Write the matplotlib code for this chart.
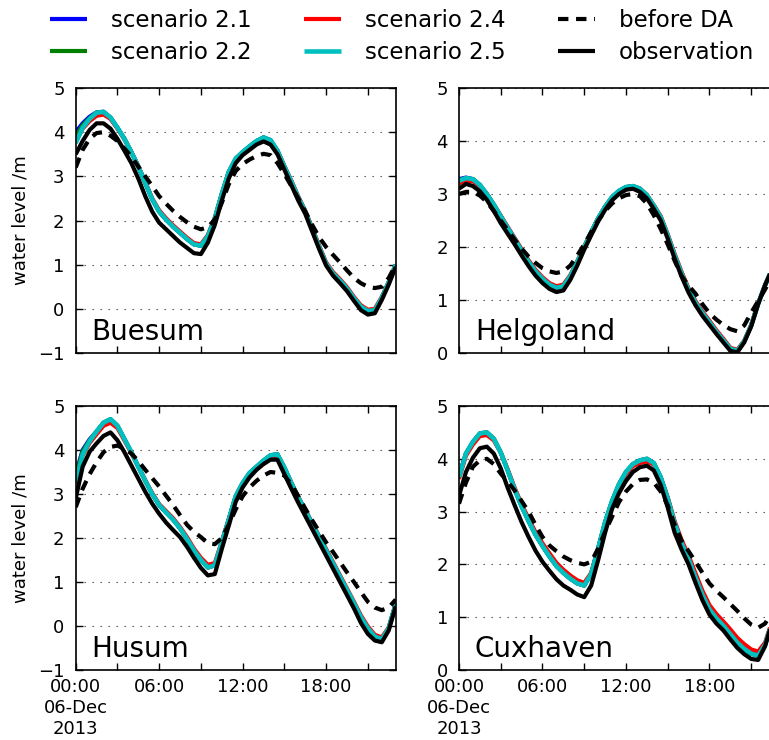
import numpy as np
import matplotlib
matplotlib.use("Agg")
import matplotlib.pyplot as plt
import matplotlib.dates as mdates
from matplotlib.ticker import FuncFormatter, MultipleLocator

# ---------------- data (half-hourly, 06-Dec-2013 00:00 .. 23:00) ----------------
minutes = np.arange(0, 23 * 60 + 1, 30)

stations = ["Buesum", "Helgoland", "Husum", "Cuxhaven"]
ylims = {"Buesum": (-1, 5), "Helgoland": (0, 5), "Husum": (-1, 5), "Cuxhaven": (0, 5)}

buesum_s21 = [4.00, 4.20, 4.35, 4.45, 4.46, 4.33, 4.10, 3.85, 3.55, 3.22, 2.85, 2.48, 2.20, 2.02, 1.86, 1.72, 1.58, 1.46, 1.43, 1.65, 2.05, 2.60, 3.10, 3.40, 3.55, 3.68, 3.80, 3.88, 3.82, 3.58, 3.22, 2.88, 2.52, 2.20, 1.80, 1.40, 1.02, 0.80, 0.64, 0.46, 0.24, 0.05, -0.05, -0.03, 0.25, 0.60, 1.00]
buesum_s22 = [3.90, 4.16, 4.32, 4.44, 4.46, 4.33, 4.10, 3.85, 3.55, 3.22, 2.85, 2.48, 2.20, 2.02, 1.86, 1.72, 1.58, 1.46, 1.43, 1.65, 2.05, 2.60, 3.10, 3.40, 3.55, 3.68, 3.80, 3.88, 3.82, 3.58, 3.22, 2.88, 2.52, 2.20, 1.80, 1.40, 1.02, 0.80, 0.64, 0.46, 0.24, 0.05, -0.05, -0.03, 0.25, 0.60, 1.00]
buesum_s24 = [3.80, 4.08, 4.25, 4.37, 4.40, 4.30, 4.08, 3.84, 3.55, 3.23, 2.87, 2.50, 2.23, 2.05, 1.89, 1.75, 1.61, 1.49, 1.46, 1.67, 2.06, 2.60, 3.08, 3.38, 3.53, 3.65, 3.77, 3.84, 3.80, 3.58, 3.23, 2.90, 2.54, 2.22, 1.83, 1.43, 1.05, 0.83, 0.67, 0.49, 0.27, 0.08, -0.02, 0.00, 0.27, 0.61, 1.00]
buesum_s25 = [3.75, 4.10, 4.30, 4.44, 4.46, 4.33, 4.10, 3.85, 3.55, 3.22, 2.85, 2.48, 2.20, 2.02, 1.86, 1.72, 1.58, 1.46, 1.43, 1.65, 2.05, 2.60, 3.10, 3.40, 3.55, 3.68, 3.80, 3.88, 3.82, 3.58, 3.22, 2.88, 2.52, 2.20, 1.80, 1.40, 1.02, 0.80, 0.64, 0.46, 0.24, 0.05, -0.05, -0.03, 0.25, 0.60, 1.00]
buesum_da = [3.20, 3.60, 3.85, 3.98, 4.00, 3.92, 3.80, 3.63, 3.45, 3.22, 3.00, 2.78, 2.55, 2.38, 2.22, 2.08, 1.96, 1.86, 1.80, 1.85, 2.02, 2.40, 2.82, 3.12, 3.28, 3.38, 3.46, 3.51, 3.48, 3.30, 3.05, 2.78, 2.50, 2.20, 1.90, 1.62, 1.40, 1.22, 1.05, 0.87, 0.70, 0.58, 0.50, 0.47, 0.50, 0.70, 1.00]
buesum_obs = [3.50, 3.80, 4.05, 4.20, 4.20, 4.08, 3.85, 3.58, 3.30, 2.95, 2.55, 2.20, 1.95, 1.80, 1.65, 1.50, 1.38, 1.26, 1.24, 1.50, 1.90, 2.45, 2.95, 3.30, 3.48, 3.60, 3.72, 3.79, 3.72, 3.50, 3.15, 2.80, 2.45, 2.15, 1.75, 1.35, 0.98, 0.75, 0.58, 0.40, 0.18, -0.03, -0.13, -0.10, 0.20, 0.55, 0.95]

helgoland_s21 = [3.28, 3.31, 3.28, 3.17, 3.00, 2.80, 2.58, 2.36, 2.15, 1.93, 1.72, 1.54, 1.40, 1.29, 1.23, 1.26, 1.45, 1.72, 2.00, 2.28, 2.54, 2.76, 2.94, 3.06, 3.13, 3.15, 3.10, 2.98, 2.78, 2.56, 2.22, 1.84, 1.50, 1.19, 0.95, 0.75, 0.58, 0.40, 0.24, 0.08, 0.04, 0.22, 0.52, 0.93, 1.28, 1.58, 1.85]
helgoland_s22 = [3.26, 3.30, 3.28, 3.17, 3.00, 2.80, 2.58, 2.36, 2.15, 1.93, 1.72, 1.54, 1.40, 1.29, 1.23, 1.26, 1.45, 1.72, 2.00, 2.28, 2.54, 2.76, 2.94, 3.06, 3.13, 3.15, 3.10, 2.98, 2.78, 2.56, 2.22, 1.84, 1.50, 1.19, 0.95, 0.75, 0.58, 0.40, 0.24, 0.08, 0.04, 0.22, 0.52, 0.93, 1.28, 1.58, 1.85]
helgoland_s24 = [3.20, 3.25, 3.24, 3.15, 2.99, 2.80, 2.59, 2.38, 2.17, 1.96, 1.75, 1.57, 1.43, 1.32, 1.26, 1.29, 1.47, 1.73, 2.01, 2.28, 2.54, 2.76, 2.93, 3.05, 3.12, 3.14, 3.10, 2.98, 2.79, 2.58, 2.24, 1.87, 1.53, 1.22, 0.98, 0.78, 0.61, 0.43, 0.27, 0.10, 0.06, 0.23, 0.53, 0.94, 1.28, 1.58, 1.85]
helgoland_s25 = [3.25, 3.30, 3.28, 3.17, 3.00, 2.80, 2.58, 2.36, 2.15, 1.93, 1.72, 1.54, 1.40, 1.29, 1.23, 1.26, 1.45, 1.72, 2.00, 2.28, 2.54, 2.76, 2.94, 3.06, 3.13, 3.15, 3.10, 2.98, 2.78, 2.56, 2.22, 1.84, 1.50, 1.19, 0.95, 0.75, 0.58, 0.40, 0.24, 0.08, 0.04, 0.22, 0.52, 0.93, 1.28, 1.58, 1.85]
helgoland_da = [3.00, 3.04, 3.04, 2.97, 2.85, 2.68, 2.50, 2.32, 2.14, 1.97, 1.82, 1.70, 1.60, 1.54, 1.51, 1.54, 1.65, 1.84, 2.05, 2.28, 2.50, 2.68, 2.82, 2.92, 2.98, 3.00, 2.96, 2.82, 2.60, 2.34, 2.05, 1.74, 1.45, 1.27, 1.12, 0.92, 0.75, 0.63, 0.53, 0.45, 0.41, 0.52, 0.76, 0.98, 1.20, 1.45, 1.70]
helgoland_obs = [3.10, 3.19, 3.15, 3.05, 2.89, 2.68, 2.45, 2.25, 2.05, 1.84, 1.64, 1.46, 1.32, 1.21, 1.15, 1.18, 1.38, 1.65, 1.95, 2.22, 2.48, 2.70, 2.88, 3.00, 3.08, 3.10, 3.04, 2.92, 2.72, 2.50, 2.16, 1.78, 1.44, 1.14, 0.90, 0.70, 0.53, 0.36, 0.20, 0.04, 0.01, 0.20, 0.50, 0.92, 1.28, 1.58, 1.85]

husum_s21 = [3.45, 4.00, 4.24, 4.42, 4.62, 4.70, 4.55, 4.25, 3.95, 3.62, 3.30, 3.00, 2.75, 2.58, 2.42, 2.22, 1.98, 1.72, 1.50, 1.33, 1.38, 1.90, 2.42, 2.95, 3.25, 3.48, 3.62, 3.76, 3.88, 3.90, 3.60, 3.25, 2.92, 2.62, 2.32, 2.02, 1.72, 1.42, 1.12, 0.82, 0.52, 0.20, -0.05, -0.24, -0.30, -0.05, 0.50]
husum_s22 = [3.40, 3.97, 4.22, 4.42, 4.62, 4.70, 4.55, 4.25, 3.95, 3.62, 3.30, 3.00, 2.75, 2.58, 2.42, 2.22, 1.98, 1.72, 1.50, 1.33, 1.38, 1.90, 2.42, 2.95, 3.25, 3.48, 3.62, 3.76, 3.88, 3.90, 3.60, 3.25, 2.92, 2.62, 2.32, 2.02, 1.72, 1.42, 1.12, 0.82, 0.52, 0.20, -0.05, -0.24, -0.30, -0.05, 0.50]
husum_s24 = [3.28, 3.88, 4.16, 4.36, 4.55, 4.62, 4.50, 4.22, 3.93, 3.62, 3.31, 3.02, 2.77, 2.61, 2.45, 2.25, 2.02, 1.76, 1.55, 1.39, 1.43, 1.92, 2.42, 2.93, 3.23, 3.46, 3.60, 3.73, 3.84, 3.86, 3.58, 3.25, 2.93, 2.64, 2.34, 2.04, 1.75, 1.45, 1.15, 0.85, 0.55, 0.24, -0.01, -0.20, -0.26, -0.03, 0.50]
husum_s25 = [3.25, 3.90, 4.20, 4.42, 4.62, 4.70, 4.55, 4.25, 3.95, 3.62, 3.30, 3.00, 2.75, 2.58, 2.42, 2.22, 1.98, 1.72, 1.50, 1.33, 1.38, 1.90, 2.42, 2.95, 3.25, 3.48, 3.62, 3.76, 3.88, 3.90, 3.60, 3.25, 2.92, 2.62, 2.32, 2.02, 1.72, 1.42, 1.12, 0.82, 0.52, 0.20, -0.05, -0.24, -0.30, -0.05, 0.50]
husum_da = [2.70, 3.12, 3.45, 3.72, 3.95, 4.07, 4.10, 4.03, 3.92, 3.75, 3.55, 3.36, 3.17, 2.96, 2.75, 2.52, 2.30, 2.14, 2.02, 1.88, 1.86, 2.00, 2.30, 2.65, 2.95, 3.15, 3.30, 3.42, 3.50, 3.48, 3.42, 3.22, 2.95, 2.67, 2.40, 2.15, 1.90, 1.68, 1.45, 1.22, 1.00, 0.77, 0.55, 0.42, 0.36, 0.42, 0.60]
husum_obs = [2.90, 3.62, 3.96, 4.15, 4.32, 4.40, 4.22, 3.95, 3.65, 3.35, 3.05, 2.78, 2.55, 2.35, 2.18, 2.02, 1.80, 1.55, 1.32, 1.15, 1.18, 1.75, 2.28, 2.82, 3.15, 3.38, 3.55, 3.68, 3.78, 3.78, 3.45, 3.12, 2.80, 2.50, 2.20, 1.90, 1.60, 1.30, 1.00, 0.70, 0.40, 0.07, -0.18, -0.33, -0.37, -0.10, 0.45]

cuxhaven_s21 = [3.68, 4.10, 4.32, 4.48, 4.50, 4.38, 4.12, 3.78, 3.42, 3.10, 2.82, 2.56, 2.35, 2.15, 1.97, 1.84, 1.73, 1.64, 1.60, 1.82, 2.30, 2.80, 3.20, 3.52, 3.75, 3.90, 3.97, 4.00, 3.92, 3.65, 3.25, 2.78, 2.40, 2.10, 1.75, 1.42, 1.15, 0.98, 0.84, 0.68, 0.52, 0.40, 0.31, 0.27, 0.48, 0.90, 1.30]
cuxhaven_s22 = [3.66, 4.10, 4.32, 4.48, 4.50, 4.38, 4.12, 3.78, 3.42, 3.10, 2.82, 2.56, 2.35, 2.15, 1.97, 1.84, 1.73, 1.64, 1.60, 1.82, 2.30, 2.80, 3.20, 3.52, 3.75, 3.90, 3.97, 4.00, 3.92, 3.65, 3.25, 2.78, 2.40, 2.10, 1.75, 1.42, 1.15, 0.98, 0.84, 0.68, 0.52, 0.40, 0.31, 0.27, 0.48, 0.90, 1.30]
cuxhaven_s24 = [3.62, 4.06, 4.27, 4.43, 4.45, 4.35, 4.12, 3.80, 3.45, 3.14, 2.87, 2.61, 2.40, 2.21, 2.03, 1.90, 1.79, 1.70, 1.65, 1.84, 2.30, 2.78, 3.17, 3.48, 3.71, 3.86, 3.92, 3.95, 3.89, 3.64, 3.27, 2.82, 2.46, 2.17, 1.83, 1.50, 1.23, 1.06, 0.92, 0.77, 0.61, 0.49, 0.39, 0.35, 0.52, 0.92, 1.30]
cuxhaven_s25 = [3.65, 4.10, 4.32, 4.48, 4.50, 4.38, 4.12, 3.78, 3.42, 3.10, 2.82, 2.56, 2.35, 2.15, 1.97, 1.84, 1.73, 1.64, 1.60, 1.82, 2.30, 2.80, 3.20, 3.52, 3.75, 3.90, 3.97, 4.00, 3.92, 3.65, 3.25, 2.78, 2.40, 2.10, 1.75, 1.42, 1.15, 0.98, 0.84, 0.68, 0.52, 0.40, 0.31, 0.27, 0.48, 0.90, 1.30]
cuxhaven_da = [3.15, 3.55, 3.85, 3.97, 4.00, 3.90, 3.72, 3.57, 3.40, 3.20, 3.00, 2.75, 2.52, 2.36, 2.25, 2.15, 2.08, 2.03, 2.00, 2.05, 2.30, 2.62, 2.90, 3.18, 3.38, 3.52, 3.60, 3.61, 3.55, 3.38, 3.12, 2.75, 2.45, 2.25, 2.05, 1.84, 1.64, 1.50, 1.38, 1.25, 1.12, 0.98, 0.86, 0.80, 0.88, 1.10, 1.35]
cuxhaven_obs = [3.30, 3.75, 4.02, 4.20, 4.23, 4.10, 3.82, 3.45, 3.12, 2.80, 2.52, 2.26, 2.05, 1.88, 1.72, 1.60, 1.52, 1.43, 1.38, 1.60, 2.08, 2.60, 3.05, 3.35, 3.58, 3.75, 3.84, 3.87, 3.78, 3.50, 3.08, 2.60, 2.28, 2.00, 1.65, 1.32, 1.05, 0.88, 0.75, 0.58, 0.42, 0.30, 0.21, 0.19, 0.45, 0.90, 1.30]

data = {
    "Buesum": [buesum_s21, buesum_s22, buesum_s24, buesum_s25, buesum_da, buesum_obs],
    "Helgoland": [helgoland_s21, helgoland_s22, helgoland_s24, helgoland_s25, helgoland_da, helgoland_obs],
    "Husum": [husum_s21, husum_s22, husum_s24, husum_s25, husum_da, husum_obs],
    "Cuxhaven": [cuxhaven_s21, cuxhaven_s22, cuxhaven_s24, cuxhaven_s25, cuxhaven_da, cuxhaven_obs],
}
labels = ["scenario 2.1", "scenario 2.2", "scenario 2.4", "scenario 2.5", "before DA", "observation"]
colors = ["#0000ff", "#008000", "#ff0000", "#00bfbf"]

times = np.datetime64("2013-12-06T00:00") + minutes * np.timedelta64(1, "m")

# ---------------- figure ----------------
W, H = 769, 740
fig = plt.figure(figsize=(W / 100, H / 100), dpi=100)
fig.patch.set_facecolor("white")

def rect(x0, y0, x1, y1):
    return [x0 / W, 1 - y1 / H, (x1 - x0) / W, (y1 - y0) / H]

positions = {
    "Buesum": rect(75.7, 88, 395.7, 353),
    "Helgoland": rect(459, 88, 779, 353),
    "Husum": rect(75.7, 406, 395.7, 670),
    "Cuxhaven": rect(459, 406, 779, 670),
}

def fmt(x, pos):
    d = mdates.num2date(x)
    if d.hour == 0 and d.day == 6:
        return d.strftime("%H:%M\n%d-%b\n%Y")
    return d.strftime("%H:%M")

LW = 3.0
handles = []
for name in stations:
    ax = fig.add_axes(positions[name])
    series = data[name]
    lines = []
    for i in range(4):
        l, = ax.plot(times, series[i], color=colors[i], lw=(3.3 if i == 3 else LW),
                     label=labels[i], solid_capstyle="butt")
        lines.append(l)
    l, = ax.plot(times, series[4], color="black", lw=LW,
                 linestyle=(0, (7.5 / LW, 5.5 / LW)), label=labels[4])
    lines.append(l)
    l, = ax.plot(times, series[5], color="black", lw=LW, label=labels[5],
                 solid_capstyle="butt")
    lines.append(l)
    if not handles:
        handles = lines

    ax.set_xlim(times[0], times[-1])
    ax.set_ylim(*ylims[name])
    ax.yaxis.set_major_locator(MultipleLocator(1))
    ax.xaxis.set_major_locator(mdates.HourLocator(byhour=[0, 6, 12, 18]))
    ax.xaxis.set_minor_locator(mdates.HourLocator(byhour=[3, 9, 15, 21]))
    ax.xaxis.set_major_formatter(FuncFormatter(fmt))
    ax.tick_params(which="both", direction="in", top=True, right=True,
                   length=5, width=1, labelsize=13)
    ax.tick_params(axis="y", pad=8)
    ax.tick_params(axis="x", pad=6)
    ax.grid(axis="y", which="major", color="#444444", linestyle=(0, (1.2, 6)), linewidth=0.8)
    for s in ax.spines.values():
        s.set_linewidth(1.2)
    if name in ("Buesum", "Helgoland"):
        ax.tick_params(labelbottom=False)
    if name in ("Buesum", "Husum"):
        ax.set_ylabel("water level /m", fontsize=13, labelpad=6)
    ax.text(0.05, 0.05, name, transform=ax.transAxes, fontsize=20, va="baseline")

fig.legend(handles, labels, ncol=3, loc="upper left",
           bbox_to_anchor=(50 / W, 1 - 9 / H), frameon=False, fontsize=16.5,
           handlelength=1.6, handletextpad=1.05, columnspacing=2.3,
           labelspacing=0.4, borderpad=0, borderaxespad=0)

fig.savefig("out.png", dpi=100, facecolor="white")
